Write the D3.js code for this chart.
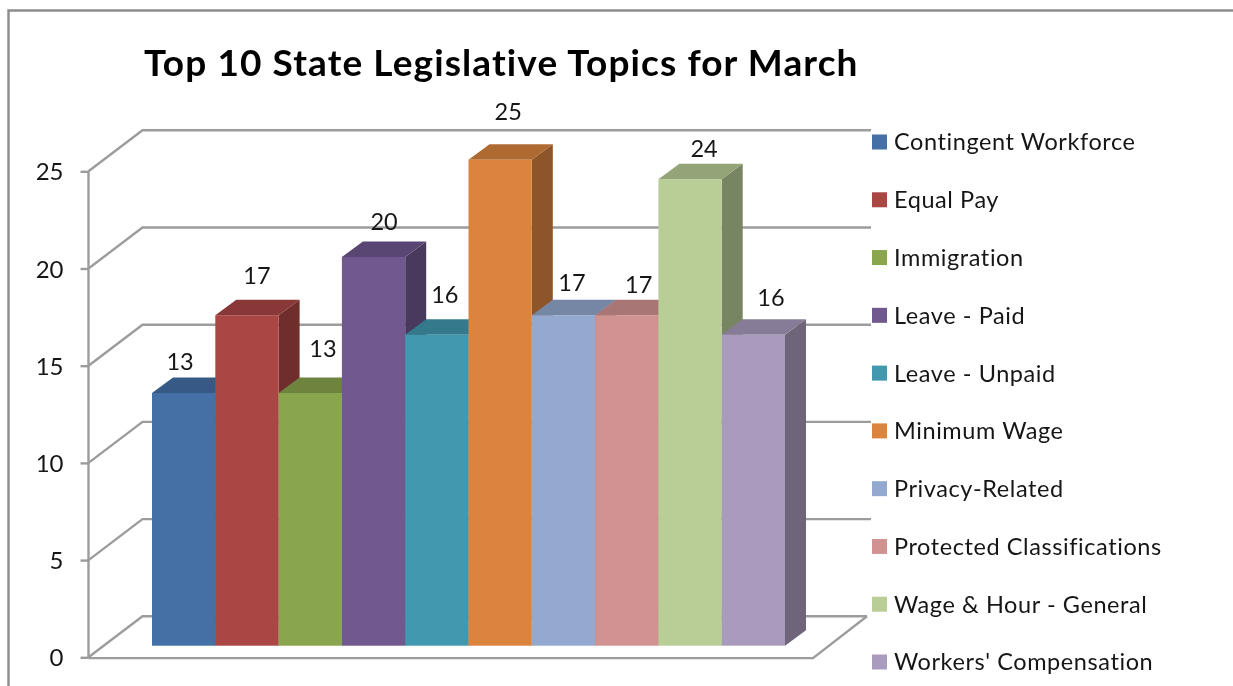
<!DOCTYPE html>
<html><head><meta charset="utf-8">
<script src="https://cdn.jsdelivr.net/npm/d3@7/dist/d3.min.js"></script>
<style>
html,body{margin:0;padding:0;background:#fff;overflow:hidden}
svg{filter:blur(0.45px)}
text{font-family:Lato,"Noto Sans",sans-serif;fill:#161616}
</style></head><body>
<svg id="c" width="1233" height="686"></svg>
<script>
const titleText = "Top 10 State Legislative Topics for March";
const categories = ["Contingent Workforce","Equal Pay","Immigration","Leave - Paid","Leave - Unpaid","Minimum Wage","Privacy-Related","Protected Classifications","Wage & Hour - General","Workers' Compensation"];
const values = [13,17,13,20,16,25,17,17,24,16];
const colors = ["#4470A6","#AA4643","#89A54E","#71588F","#4198AF","#DB843D","#93A9CF","#D19392","#B9CD96","#A99BBD"];
const yTicks = [0,5,10,15,20,25];
// hand placement of the data labels relative to each bar's top centre (as Excel left them)
const labelDx = [-3.6,10,12.7,10.5,8,8,8.5,12,14,17.6];
const labelDy = [-31,-40,-44,-35,-40.5,-47.7,-33,-31,-31,-37.6];

const svg = d3.select("#c");
const gridCol = "#9c9c9c";
const W = {x0:88.5, x1:813, dx:54, dy:-41, y0:657.3, y25:171.3};   // wall/floor frame
const yFront = d3.scaleLinear().domain([0,25]).range([W.y0,W.y25]);
const x = d3.scaleBand().domain(categories).range([152,785]).padding(0);
const barBase = 645.7;
const barH = v => (yFront(0)-yFront(v));
const depth = {dx:21, dy:-15.5};
const shade = (c,k)=>{const r=d3.rgb(c);return d3.rgb(r.r*k,r.g*k,r.b*k).formatHex();};

// frame
svg.append("path").attr("d","M8.5,686V10.5H1233").attr("fill","none").attr("stroke","#8c8c8c").attr("stroke-width",2.4);

// walls and floor gridlines
const g = svg.append("g").attr("fill","none").attr("stroke",gridCol).attr("stroke-width",2.4);
g.selectAll("path.grid").data(yTicks).join("path").attr("class","grid")
  .attr("d",t=>`M${W.x0},${yFront(t)}L${W.x0+W.dx},${yFront(t)+W.dy}H${W.x1+W.dx+(t===0?0:4)}`);
g.append("path").attr("d",`M${W.x0},${W.y0+0.8}H${W.x1}L${W.x1+W.dx},${W.y0+W.dy}`);

// y axis
const axis = d3.axisLeft(yFront).tickValues(yTicks).tickSize(8).tickPadding(17).tickFormat(d3.format("d"));
const ax = svg.append("g").attr("transform",`translate(${W.x0},0)`).call(axis);
ax.selectAll("path.domain").attr("stroke",gridCol).attr("stroke-width",2.4).attr("d",`M0,${W.y25}V${W.y0+1}`);
ax.selectAll(".tick line").attr("stroke",gridCol).attr("stroke-width",2.4);
ax.selectAll("text").attr("font-size",24).style("font-family","Lato").attr("fill","#161616").attr("dy","0.36em");

// bars
const bars = svg.append("g").selectAll("g").data(categories).join("g");
bars.each(function(c,i){
  const s=d3.select(this), l=x(c), r=l+x.bandwidth(), top=barBase-barH(values[i]);
  s.append("path").attr("fill",shade(colors[i],.65))
   .attr("d",`M${r},${top}L${r+depth.dx},${top+depth.dy}V${barBase+depth.dy}L${r},${barBase}Z`);
  s.append("path").attr("fill",shade(colors[i],.8))
   .attr("d",`M${l},${top}L${l+depth.dx},${top+depth.dy}H${r+depth.dx}L${r},${top}Z`);
  s.append("rect").attr("x",l).attr("y",top).attr("width",x.bandwidth()).attr("height",barH(values[i])).attr("fill",colors[i]);
});
svg.append("g").selectAll("text").data(categories).join("text")
  .attr("x",(c,i)=>x(c)+x.bandwidth()/2+labelDx[i])
  .attr("y",(c,i)=>barBase-barH(values[i])+labelDy[i])
  .attr("dy","0.36em").attr("text-anchor","middle").attr("font-size",23.5)
  .text((c,i)=>values[i]);

// legend
const ly = d3.scalePoint().domain(categories).range([142,662]);
const lg = svg.append("g").selectAll("g").data(categories).join("g").attr("transform",c=>`translate(872,${ly(c)})`);
lg.append("rect").attr("x",0).attr("y",-7.5).attr("width",15).attr("height",15).attr("fill",(c,i)=>colors[i]);
lg.append("text").attr("x",22).attr("dy","0.36em").attr("font-size",23.5).attr("letter-spacing",0.58).text(c=>c);

// title
svg.append("text").attr("x",144).attr("y",76).attr("font-size",37).attr("font-weight",700).attr("letter-spacing",1.1).style("fill","#000").text(titleText);
</script>
</body></html>
